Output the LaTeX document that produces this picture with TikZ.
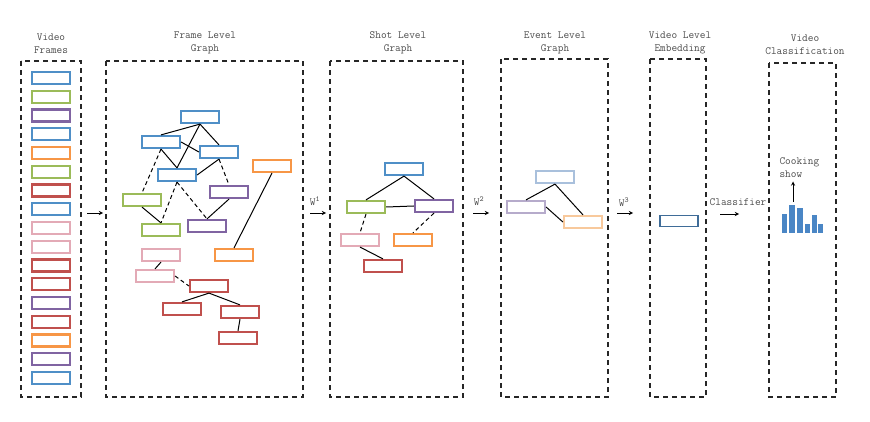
\documentclass[tikz,border=0pt]{standalone}
\usepackage{fontspec}
\definecolor{blu}{HTML}{4F8FC7}
\definecolor{verde}{HTML}{9BBB59}
\definecolor{viola}{HTML}{8064A2}
\definecolor{arancio}{HTML}{F79646}
\definecolor{rosso}{HTML}{C0504D}
\definecolor{rosa}{HTML}{E3AAB6}
\definecolor{blutenue}{HTML}{A9C0DC}
\definecolor{violatenue}{HTML}{B6ABCB}
\definecolor{aranciotenue}{HTML}{F8C99C}
\definecolor{bluscuro}{HTML}{3F6C98}
\definecolor{barra}{HTML}{4A86C5}
\begin{document}
\begin{tikzpicture}[x=1pt, y=-1pt, >=stealth]
% Stili
\tikzset{
  fr/.style={draw=#1, line width=2.2pt, minimum width=38pt, minimum height=12pt, inner sep=0pt},
  riquadro/.style={draw=black!85, line width=1.4pt, dash pattern=on 5pt off 4pt},
  titolo/.style={align=center, text=black!70, font=\ttfamily\fontsize{11}{13}\selectfont},
  freccia/.style={->, line width=0.9pt},
  arco/.style={line width=1pt},
  tratt/.style={line width=1pt, dash pattern=on 4pt off 3pt}
}
\useasboundingbox (0,0) rectangle (870,422);

% --- RIQUADRI TRATTEGGIATI ---
\draw[riquadro] (21,61) rectangle (81,397);
\draw[riquadro] (106,61) rectangle (303,397);
\draw[riquadro] (330,61) rectangle (463,397);
\draw[riquadro] (501,59) rectangle (608,397);
\draw[riquadro] (650,59) rectangle (706,397);
\draw[riquadro] (769,63) rectangle (836,397);

% --- TITOLI ---
\node[titolo] (t1) at (51,44) {Video\\Frames};
\node[titolo] (t2) at (205,43) {Frame Level\\Graph};
\node[titolo] (t3) at (398,43) {Shot Level\\Graph};
\node[titolo] (t4) at (555,43) {Event Level\\Graph};
\node[titolo] (t5) at (680,43) {Video Level\\Embedding};
\node[titolo] (t6) at (805,45) {Video\\Classification};

% --- FOTOGRAMMI ---
\foreach \c [count=\i from 0] in {blu,verde,viola,blu,arancio,verde,rosso,blu,rosa,rosa,rosso,rosso,viola,rosso,arancio,viola,blu}
  \node[fr=\c] (v\i) at (51,{78+18.75*\i}) {};

% --- GRAFO A LIVELLO DI FRAME ---
\node[fr=blu] (fa) at (200,117) {};
\node[fr=blu] (fb) at (161,142) {};
\node[fr=blu] (fc) at (219,152) {};
\node[fr=blu] (fd) at (177,175) {};
\node[fr=arancio] (fe) at (272,166) {};
\node[fr=verde] (ff) at (142,200) {};
\node[fr=viola] (fg) at (229,192) {};
\node[fr=verde] (fh) at (161,230) {};
\node[fr=viola] (fi) at (207,226) {};
\node[fr=rosa] (fj) at (161,255) {};
\node[fr=arancio] (fk) at (234,255) {};
\node[fr=rosa] (fl) at (155,276) {};
\node[fr=rosso] (fm) at (209,286) {};
\node[fr=rosso] (fn) at (182,309) {};
\node[fr=rosso] (fo) at (240,312) {};
\node[fr=rosso] (fp) at (238,338) {};

\draw[arco] (fa.south) -- (fb.north);
\draw[arco] (fa.south) -- (fc.north);
\draw[arco] (fa.south) -- (fd.north);
\draw[arco] (fb.south) -- (fd.north);
\draw[arco] (fb.east) -- (fc.west);
\draw[arco] (fd.east) -- (fc.south);
\draw[tratt] (fb.south) -- (ff.north);
\draw[tratt] (fd.south) -- (fh.north);
\draw[tratt] (fd.south) -- (fi.north);
\draw[tratt] (fc.south) -- (fg.north);
\draw[arco] (ff.south) -- (fh.north);
\draw[arco] (fg.south) -- (fi.north);
\draw[arco] (fe.south) -- (fk.north);
\draw[arco] (fj.south) -- (fl.north);
\draw[tratt] (fl.east) -- (fm.west);
\draw[arco] (fm.south) -- (fn.north);
\draw[arco] (fm.south) -- (fo.north);
\draw[arco] (fo.south) -- (fp.north);

% --- GRAFO A LIVELLO DI SHOT ---
\node[fr=blu] (sa) at (404,169) {};
\node[fr=verde] (sb) at (366,207) {};
\node[fr=viola] (sc) at (434,206) {};
\node[fr=rosa] (sd) at (360,240) {};
\node[fr=arancio] (se) at (413,240) {};
\node[fr=rosso] (sf) at (383,266) {};

\draw[arco] (sa.south) -- (sb.north);
\draw[arco] (sa.south) -- (sc.north);
\draw[arco] (sb.east) -- (sc.west);
\draw[tratt] (sb.south) -- (sd.north);
\draw[tratt] (sc.south) -- (se.north);
\draw[arco] (sd.south) -- (sf.north);

% --- GRAFO A LIVELLO DI EVENTO ---
\node[fr=blutenue] (ea) at (555,177) {};
\node[fr=violatenue] (eb) at (526,207) {};
\node[fr=aranciotenue] (ec) at (583,222) {};

\draw[arco] (ea.south) -- (eb.north);
\draw[arco] (ea.south) -- (ec.north);
\draw[arco] (eb.east) -- (ec.west);

% --- EMBEDDING DEL VIDEO ---
\node[draw=bluscuro, line width=1.3pt, minimum width=38pt, minimum height=11pt, inner sep=0pt] (emb) at (679,221) {};

% --- FRECCE TRA I LIVELLI ---
\coordinate (a0) at (87,213);  \coordinate (b0) at (103,213);
\coordinate (a1) at (310,213); \coordinate (b1) at (326,213);
\coordinate (a2) at (473,213); \coordinate (b2) at (489,213);
\coordinate (a3) at (617,213); \coordinate (b3) at (633,213);
\coordinate (a4) at (720,214); \coordinate (b4) at (739,214);
\foreach \k in {0,...,4}
  \draw[freccia] (a\k) -- (b\k);

\node[titolo] (w1) at (315,201) {W\textsuperscript{1}};
\node[titolo] (w2) at (479,201) {W\textsuperscript{2}};
\node[titolo] (w3) at (624,202) {W\textsuperscript{3}};
\node[titolo] (cl) at (738,202) {Classifier};

% --- ISTOGRAMMA ---
\foreach \xa/\xb/\h in {782/787/214, 789/795/205, 797/803/208, 805/810/224, 812/817/215, 818/823/224}
  \fill[barra] (\xa,233) rectangle (\xb,\h);

\node[titolo, align=left, anchor=west] (cs) at (776,168) {Cooking\\show};
\coordinate (picco) at (793,202);
\draw[freccia] (picco) -- (cs.south -| picco);

\end{tikzpicture}
\end{document}
